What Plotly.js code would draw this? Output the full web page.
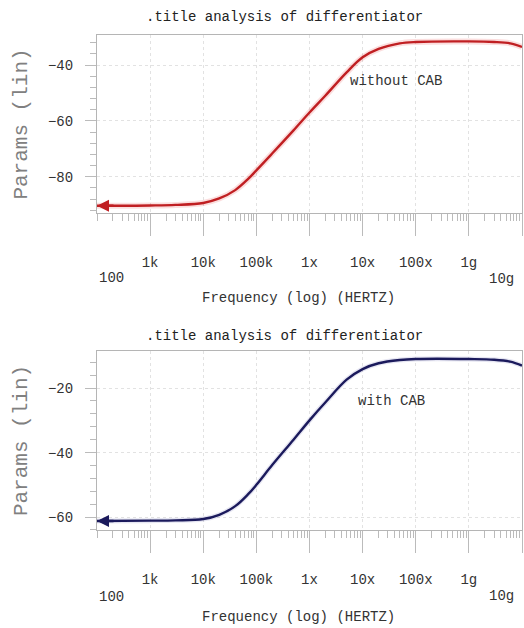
<!DOCTYPE html>
<html>
<head>
<meta charset="utf-8">
<script src="https://cdn.plot.ly/plotly-3.0.1.min.js"></script>
<style>html,body{margin:0;padding:0;background:#fff;}#chart{width:524px;height:628px;}</style>
</head>
<body>
<div id="chart"></div>
<script>
// ---- data ----
const freq = [1e2, 1e3, 3e3, 1e4, 2e4, 4e4, 7e4, 1e5, 2e5, 5e5, 1e6, 2e6, 5e6, 1e7, 2e7, 5e7, 1e8, 1e9, 3e9, 6e9, 1e10];
const withoutCAB = [-90.4, -90.3, -90.1, -89.4, -87.8, -84.8, -80.8, -77.7, -71.6, -63.4, -57.0, -50.9, -42.6, -37.2, -34.2, -32.2, -31.7, -31.5, -31.7, -32.2, -33.5];
const withCAB = [-61.2, -61.1, -61.0, -60.6, -59.3, -56.6, -52.9, -50.0, -43.8, -36.0, -30.0, -24.4, -17.4, -14.1, -12.3, -11.3, -11.0, -11.0, -11.2, -11.8, -13.0];
const decadeVals = [1e2, 1e3, 1e4, 1e5, 1e6, 1e7, 1e8, 1e9, 1e10];
const decadeText = ['100', '1k', '10k', '100k', '1x', '10x', '100x', '1g', '10g'];
const chartTitle = '.title analysis of differentiator';
const xTitle = 'Frequency (log) (HERTZ)';
const yTitle = 'Params (lin)';
const seriesNames = ['without CAB', 'with CAB'];

const FONT = 'Courier New, Liberation Mono, monospace';
const axisTickText = decadeText.map((t, i) => (i === 0 || i === decadeText.length - 1) ? '' : t);
const minorVals = [];
for (let d = 2; d < 10; d++) {
  for (let k = 1; k <= 9; k++) minorVals.push(k * Math.pow(10, d));
}

function xAxis(anchor) {
  return {
    type: 'log', range: [2, 10], anchor: anchor,
    tickmode: 'array', tickvals: decadeVals, ticktext: axisTickText,
    ticks: 'outside', ticklen: 22, tickcolor: '#bbb', tickwidth: 1,
    ticklabelstandoff: 14,
    tickfont: {family: FONT, size: 14, color: '#333'},
    showgrid: true, gridcolor: '#e2e2e2', griddash: 'dot',
    showline: true, mirror: true, linecolor: '#b5b5b5', linewidth: 1,
    zeroline: false,
    minor: {tickmode: 'array', tickvals: minorVals, ticks: 'outside', ticklen: 7, tickcolor: '#bbb', showgrid: false}
  };
}
function yAxis(range, domain, anchor) {
  return {
    range: range, domain: domain, anchor: anchor,
    dtick: 20, tick0: 0,
    ticks: 'outside', ticklen: 11, tickcolor: '#bbb',
    ticklabelstandoff: 9,
    tickfont: {family: FONT, size: 14, color: '#333'},
    showgrid: true, gridcolor: '#e2e2e2', griddash: 'dot',
    showline: true, mirror: true, linecolor: '#b5b5b5', linewidth: 1,
    zeroline: false,
    minor: {dtick: 4, ticks: 'outside', ticklen: 6, tickcolor: '#bbb', showgrid: false},
    title: {text: yTitle, font: {family: FONT, size: 21, color: '#808080'}, standoff: 14}
  };
}

const traces = [
  {x: freq, y: withoutCAB, xaxis: 'x', yaxis: 'y', mode: 'lines', line: {color: 'rgba(235,90,90,0.2)', width: 6, shape: 'spline'}, hoverinfo: 'skip', showlegend: false},
  {x: freq, y: withoutCAB, xaxis: 'x', yaxis: 'y', mode: 'lines', name: seriesNames[0], line: {color: '#c01f22', width: 2.4, shape: 'spline'}, showlegend: false},
  {x: freq, y: withCAB, xaxis: 'x2', yaxis: 'y2', mode: 'lines', line: {color: 'rgba(90,90,170,0.15)', width: 5, shape: 'spline'}, hoverinfo: 'skip', showlegend: false},
  {x: freq, y: withCAB, xaxis: 'x2', yaxis: 'y2', mode: 'lines', name: seriesNames[1], line: {color: '#1b1a5c', width: 2.4, shape: 'spline'}, showlegend: false}
];

const lf = v => Math.log10(v);
const annFont = {family: FONT, size: 14, color: '#333'};
const annotations = [
  {xref: 'paper', yref: 'paper', x: 0.44, y: 1, yshift: 18, xanchor: 'center', yanchor: 'middle', text: chartTitle, showarrow: false, font: {family: FONT, size: 14, color: '#222'}},
  {xref: 'paper', yref: 'y2 domain', x: 0.44, y: 1, yshift: 15, xanchor: 'center', yanchor: 'middle', text: chartTitle, showarrow: false, font: {family: FONT, size: 14, color: '#222'}},
  {xref: 'paper', yref: 'y domain', x: 0.475, y: 0, yshift: -85, xanchor: 'center', yanchor: 'middle', text: xTitle, showarrow: false, font: annFont},
  {xref: 'paper', yref: 'y2 domain', x: 0.475, y: 0, yshift: -87, xanchor: 'center', yanchor: 'middle', text: xTitle, showarrow: false, font: annFont},
  {xref: 'x', yref: 'y', x: 7.63, y: -45.8, text: seriesNames[0], showarrow: false, font: annFont},
  {xref: 'x2', yref: 'y2', x: 7.54, y: -23.9, text: seriesNames[1], showarrow: false, font: annFont},
  {xref: 'x', yref: 'y domain', x: lf(decadeVals[0]), y: 0, xshift: 14, yshift: -65, yanchor: 'middle', text: decadeText[0], showarrow: false, font: annFont},
  {xref: 'x', yref: 'y domain', x: lf(decadeVals[8]), y: 0, xshift: -21, yshift: -66, yanchor: 'middle', text: decadeText[8], showarrow: false, font: annFont},
  {xref: 'x2', yref: 'y2 domain', x: lf(decadeVals[0]), y: 0, xshift: 14, yshift: -67, yanchor: 'middle', text: decadeText[0], showarrow: false, font: annFont},
  {xref: 'x2', yref: 'y2 domain', x: lf(decadeVals[8]), y: 0, xshift: -21, yshift: -66, yanchor: 'middle', text: decadeText[8], showarrow: false, font: annFont},
  {xref: 'x', yref: 'y', x: lf(freq[0]), y: withoutCAB[0], ax: 18, ay: 0, text: '', showarrow: true, arrowhead: 2, arrowsize: 1, arrowwidth: 2.4, arrowcolor: '#c01f22'},
  {xref: 'x2', yref: 'y2', x: lf(freq[0]), y: withCAB[0], ax: 18, ay: 0, text: '', showarrow: true, arrowhead: 2, arrowsize: 1, arrowwidth: 2.4, arrowcolor: '#1b1a5c'}
];

const layout = {
  width: 524, height: 628,
  margin: {l: 97, r: 2, t: 35, b: 98},
  paper_bgcolor: '#fff', plot_bgcolor: '#fff',
  showlegend: false,
  font: {family: FONT, size: 14, color: '#333'},
  xaxis: xAxis('y'),
  yaxis: yAxis([-93, -29.2], [0.6404, 1], 'x'),
  xaxis2: xAxis('y2'),
  yaxis2: yAxis([-64, -8.5], [0, 0.3616], 'x2'),
  annotations: annotations
};

Plotly.newPlot('chart', traces, layout, {displayModeBar: false, staticPlot: true});
</script>
</body>
</html>
